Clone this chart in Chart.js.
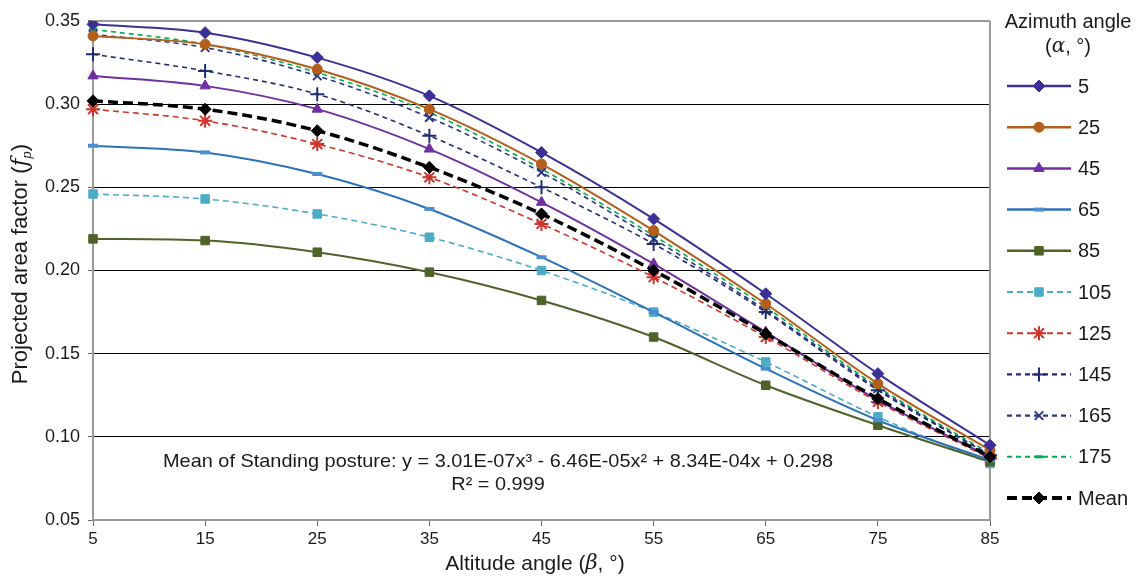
<!DOCTYPE html>
<html>
<head>
<meta charset="utf-8">
<script src="https://cdn.jsdelivr.net/npm/chart.js@4.4.1/dist/chart.umd.min.js"></script>
<style>
  html, body { margin: 0; padding: 0; background: #fff; }
  #wrap { width: 1144px; height: 580px; }
</style>
</head>
<body>
<div id="wrap"><canvas id="myChart" width="1144" height="580"></canvas></div>
<script>
      // altitude angle categories and tick labels
      var altitude = ['5', '15', '25', '35', '45', '55', '65', '75', '85'];
      var yTicks = [0.05, 0.10, 0.15, 0.20, 0.25, 0.30, 0.35];

      // projected area factor per azimuth angle
      var az5   = [0.348, 0.343, 0.328, 0.305, 0.271, 0.231, 0.186, 0.138, 0.095];
      var az25  = [0.341, 0.336, 0.321, 0.297, 0.264, 0.224, 0.180, 0.132, 0.092];
      var az45  = [0.317, 0.311, 0.297, 0.273, 0.241, 0.204, 0.163, 0.122, 0.088];
      var az65  = [0.275, 0.271, 0.258, 0.237, 0.208, 0.175, 0.141, 0.110, 0.086];
      var az85  = [0.219, 0.218, 0.211, 0.199, 0.182, 0.160, 0.131, 0.107, 0.085];
      var az105 = [0.246, 0.243, 0.234, 0.220, 0.200, 0.175, 0.145, 0.112, 0.084];
      var az125 = [0.297, 0.290, 0.276, 0.256, 0.228, 0.196, 0.160, 0.121, 0.087];
      var az145 = [0.330, 0.320, 0.306, 0.281, 0.250, 0.216, 0.175, 0.128, 0.089];
      var az165 = [0.342, 0.334, 0.317, 0.292, 0.259, 0.219, 0.176, 0.129, 0.089];
      var az175 = [0.345, 0.336, 0.319, 0.295, 0.261, 0.221, 0.178, 0.130, 0.090];
      var azMean = [0.302, 0.297, 0.284, 0.262, 0.234, 0.200, 0.162, 0.123, 0.088];

      var fitLine1 = 'Mean of Standing posture: y = 3.01E-07x\u00B3 - 6.46E-05x\u00B2 + 8.34E-04x + 0.298';
      var fitLine2 = 'R\u00B2 = 0.999';

      var FONT = '"Liberation Sans", Arial, sans-serif';

      function series(label, data, color, style, radius, dash, width, markColor, markBorder) {
        return {
          label: label,
          data: data,
          borderColor: color,
          backgroundColor: markColor || color,
          borderWidth: width || 2,
          borderDash: dash || [],
          pointStyle: style,
          pointRadius: radius,
          pointBackgroundColor: markColor || color,
          pointBorderColor: markColor || color,
          pointBorderWidth: markBorder || 1,
          cubicInterpolationMode: 'monotone',
          fill: false
        };
      }

      var datasets = [
        series('Mean', azMean, '#000000', 'rectRot', 6, [10, 5], 3.5),
        series('5', az5, '#3A3096', 'rectRot', 6),
        series('25', az25, '#B35E1B', 'circle', 5),
        series('45', az45, '#7030A0', 'triangle', 6),
        series('65', az65, '#2C72B8', 'line', 5, [], 2, '#4A90D0', 4),
        series('85', az85, '#4F6228', 'rect', 6),
        series('105', az105, '#4BACC6', 'rect', 6, [6, 4], 1.6),
        series('125', az125, '#D0342C', 'star', 7, [6, 4], 1.6, null, 2),
        series('145', az145, '#1F2D6E', 'cross', 7, [5, 4], 1.6, null, 2),
        series('165', az165, '#2A3585', 'crossRot', 6, [5, 4], 1.6, null, 2),
        series('175', az175, '#00B050', 'line', 4, [5, 4], 1.6, null, 3)
      ];
      // legend order as in the figure
      var legendOrder = ['5', '25', '45', '65', '85', '105', '125', '145', '165', '175', 'Mean'];

      function drawMixed(ctx, parts, x, y) {
        // parts: [text, font, dy]; drawn left to right, centred on x
        var total = 0;
        parts.forEach(function (p) { ctx.font = p[1]; total += ctx.measureText(p[0]).width; });
        var cx = x - total / 2;
        ctx.textAlign = 'left';
        parts.forEach(function (p) {
          ctx.font = p[1];
          ctx.fillText(p[0], cx, y + (p[2] || 0));
          cx += ctx.measureText(p[0]).width;
        });
      }

      var extras = {
        id: 'extras',
        beforeDatasetsDraw: function (chart) {
          var ctx = chart.ctx, a = chart.chartArea;
          ctx.save();
          ctx.strokeStyle = '#9a9a9a';
          ctx.lineWidth = 2;
          ctx.beginPath();
          ctx.moveTo(a.right, a.top);
          ctx.lineTo(a.right, a.bottom);
          ctx.stroke();
          ctx.restore();
        },
        afterDraw: function (chart) {
          var ctx = chart.ctx;
          ctx.save();
          ctx.fillStyle = '#1a1a1a';
          ctx.textBaseline = 'middle';

          // fit equation, condensed to the width it has in the figure
          ctx.font = '19px ' + FONT;
          ctx.textAlign = 'center';
          var w = ctx.measureText(fitLine1).width;
          ctx.save();
          ctx.translate(498, 462);
          ctx.scale(670 / w, 1);
          ctx.fillText(fitLine1, 0, 0);
          ctx.fillText(fitLine2, 0, 23);
          ctx.restore();

          // axis titles
          drawMixed(ctx, [['Altitude angle (', '21px ' + FONT], ['\u03B2', 'italic 21px "DejaVu Serif", serif'], [', \u00B0)', '21px ' + FONT]], 535, 564);
          ctx.save();
          ctx.translate(21, 264);
          ctx.rotate(-Math.PI / 2);
          drawMixed(ctx, [['Projected area factor (', '22px ' + FONT], ['f', 'italic 22px "DejaVu Serif", serif'], ['p', 'italic 13px ' + FONT, 6], [')', '22px ' + FONT]], 0, 0);
          ctx.restore();

          // legend
          ctx.font = '20px ' + FONT;
          ctx.textAlign = 'center';
          ctx.fillText('Azimuth angle', 1068, 22);
          drawMixed(ctx, [['(', '20px ' + FONT], ['\u03B1', 'italic 20px "DejaVu Serif", serif'], [', \u00B0)', '20px ' + FONT]], 1068, 47);

          legendOrder.forEach(function (name, i) {
            var ds = chart.data.datasets.find(function (d) { return d.label === name; });
            var y = 86 + i * 41.2;
            ctx.save();
            ctx.strokeStyle = ds.borderColor;
            ctx.lineWidth = ds.borderWidth + 0.5;
            ctx.setLineDash(ds.borderDash);
            ctx.beginPath();
            ctx.moveTo(1007, y);
            ctx.lineTo(1071, y);
            ctx.stroke();
            ctx.setLineDash([]);
            ctx.fillStyle = ds.pointBackgroundColor;
            ctx.strokeStyle = ds.pointBorderColor;
            ctx.lineWidth = ds.pointBorderWidth;
            Chart.helpers.drawPoint(ctx, { pointStyle: ds.pointStyle, radius: ds.pointRadius, rotation: 0, borderWidth: ds.pointBorderWidth }, 1039, y);
            ctx.restore();
            ctx.fillStyle = '#1a1a1a';
            ctx.font = '20px ' + FONT;
            ctx.textAlign = 'left';
            ctx.fillText(name, 1078, y + 1);
          });
          ctx.restore();
        }
      };

      new Chart('myChart', {
        type: 'line',
        data: {
          labels: altitude,
          datasets: datasets
        },
        options: {
          responsive: false,
          animation: false,
          layout: { padding: { left: 0, top: 21, right: 154, bottom: 0 } },
          plugins: {
            legend: { display: false },
            tooltip: { enabled: false }
          },
          scales: {
            x: {
              type: 'category',
              offset: false,
              grid: { drawOnChartArea: false, drawTicks: true, tickLength: 6, color: '#666', offset: false },
              border: { color: '#9a9a9a', width: 2 },
              ticks: { color: '#1a1a1a', font: { family: FONT, size: 17 }, padding: 3, maxRotation: 0 },
              afterFit: function (s) { s.height = 60; }
            },
            y: {
              min: 0.05,
              max: 0.35,
              afterBuildTicks: function (s) { s.ticks = yTicks.map(function (v) { return { value: v }; }); },
              grid: {
                color: function (c) { return c.tick && c.tick.value > 0.34 ? '#9a9a9a' : '#000000'; },
                lineWidth: function (c) { return c.tick && c.tick.value > 0.34 ? 2 : 1; },
                tickLength: 5,
                tickColor: '#666'
              },
              border: { color: '#9a9a9a', width: 2 },
              ticks: {
                color: '#1a1a1a',
                font: { family: FONT, size: 18 },
                padding: 8,
                callback: function (v) { return v.toFixed(2); }
              },
              afterFit: function (s) { s.width = 93; }
            }
          }
        },
        plugins: [extras]
      });
</script>
</body>
</html>
